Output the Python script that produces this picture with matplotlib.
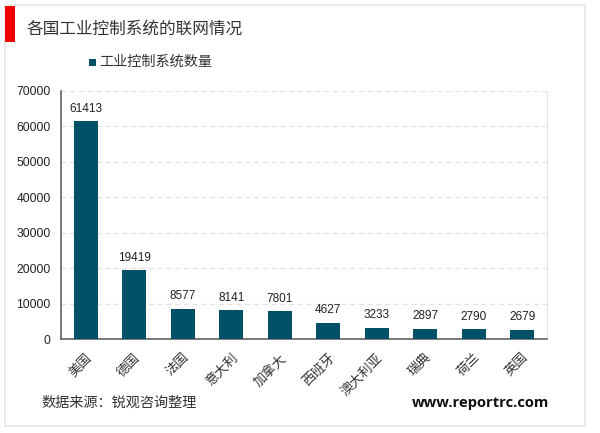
import matplotlib
matplotlib.use('Agg')
import matplotlib.pyplot as plt
from matplotlib.patches import Rectangle

plt.rcParams['font.family'] = ['Liberation Sans', 'Noto Sans CJK SC', 'DejaVu Sans']

# Data
countries = ['美国', '德国', '法国', '意大利', '加拿大', '西班牙', '澳大利亚', '瑞典', '荷兰', '英国']
counts = [61413, 19419, 8577, 8141, 7801, 4627, 3233, 2897, 2790, 2679]
yticks = [0, 10000, 20000, 30000, 40000, 50000, 60000, 70000]
series_name = '工业控制系统数量'

W, H = 600, 433
bar_color = '#005068'
text_color = '#333333'

fig = plt.figure(figsize=(W / 100, H / 100), dpi=100, facecolor='white')

# outer frame and red title block
fig.add_artist(Rectangle((5 / W, 1 - 426 / H), 580 / W, 421 / H, fill=False, ec='#e8e8e8', lw=1.2))
fig.add_artist(Rectangle((5 / W, 1 - 42 / H), 10 / W, 36 / H, fc='#f00000', ec='none'))

ax = fig.add_axes([61 / W, 1 - 339 / H, 486 / W, 248 / H])
x = list(range(len(countries)))
ax.bar(x, counts, width=0.5, color=bar_color, zorder=3)
ax.set_xlim(-0.51, 9.51)
ax.set_ylim(0, 70000)
ax.set_yticks(yticks)
ax.tick_params(axis='y', length=0, labelsize=8.8, pad=7.5, labelcolor='#222222')
ax.set_xticks(x)
ax.set_xticklabels(countries, rotation=45, ha='right', va='top', rotation_mode='anchor',
                   fontsize=9.5, color=text_color)
ax.tick_params(axis='x', length=0, pad=9)
ax.yaxis.grid(True, ls=(0, (4, 3)), color='#e2e2e2', lw=0.9, zorder=0)
ax.spines['top'].set_visible(False)
ax.spines['right'].set_color('#e4e4e4')
ax.spines['left'].set_color('#555555')
ax.spines['bottom'].set_color('#555555')
ax.spines['left'].set_linewidth(1.1)
ax.spines['bottom'].set_linewidth(1.1)

for xi, v in zip(x, counts):
    ax.annotate(str(v), (xi, v), xytext=(0, 4.5), textcoords='offset points',
                ha='center', va='bottom', fontsize=8.5, color='#222222')

fig.text(27 / W, 1 - 29 / H, '各国工业控制系统的联网情况', fontsize=12, color=text_color, va='center')
fig.add_artist(Rectangle((89 / W, 1 - 66 / H), 7 / W, 7 / H, fc=bar_color, ec='none'))
fig.text(99 / W, 1 - 62 / H, series_name, fontsize=10.2, color=text_color, va='center')
fig.text(41 / W, 1 - 403 / H, '数据来源：锐观咨询整理', fontsize=10.2, color=text_color, va='center')
fig.text(549 / W, 1 - 403 / H, 'www.reportrc.com', fontsize=10.6, fontweight='bold',
         family='Open Sans', color='#111111', va='center', ha='right')

fig.savefig('out.png', dpi=100)
